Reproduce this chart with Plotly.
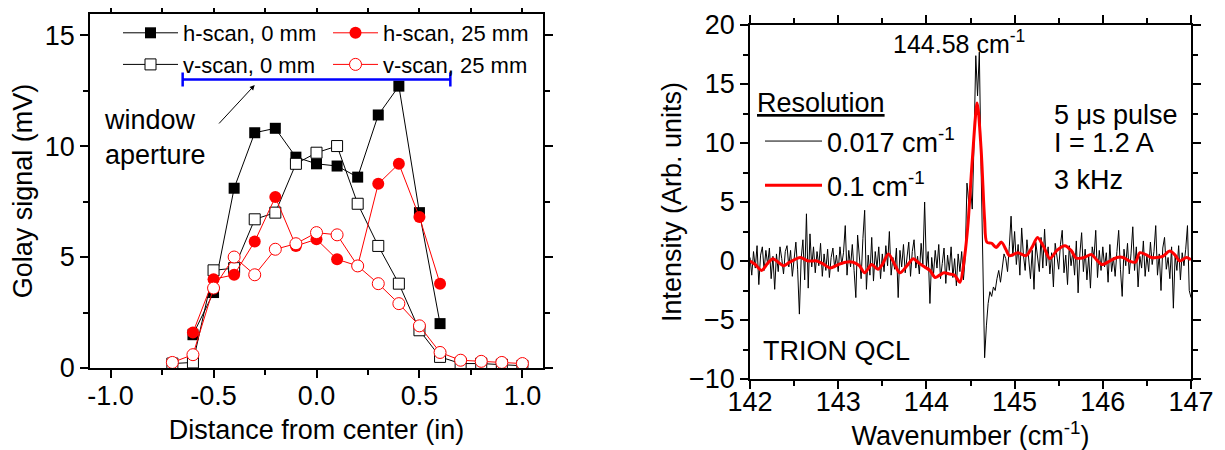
import numpy as np
import plotly.graph_objects as go

# ---- left panel: beam profile scans ----
h0_x = [-0.6, -0.5, -0.4, -0.3, -0.2, -0.1, 0.0, 0.1, 0.2, 0.3, 0.4, 0.5, 0.6]
h0_y = [1.5, 3.4, 8.1, 10.6, 10.8, 9.5, 9.2, 9.1, 8.6, 11.4, 12.7, 7.0, 2.0]

v0_x = [-0.7, -0.6, -0.5, -0.4, -0.3, -0.2, -0.1, 0.0, 0.1, 0.2, 0.3, 0.4, 0.5, 0.6, 0.7, 0.8, 0.9, 1.0]
v0_y = [0.2, 0.25, 4.4, 4.5, 6.7, 7.0, 9.2, 9.7, 10.0, 7.4, 5.5, 3.8, 1.7, 0.5, 0.2, 0.2, 0.15, 0.1]

h25_x = [-0.6, -0.5, -0.4, -0.3, -0.2, -0.1, 0.0, 0.1, 0.2, 0.3, 0.4, 0.5, 0.6]
h25_y = [1.6, 4.0, 4.2, 5.7, 7.7, 5.5, 5.8, 4.9, 4.6, 8.3, 9.2, 6.8, 3.8]

v25_x = [-0.7, -0.6, -0.5, -0.4, -0.3, -0.2, -0.1, 0.0, 0.1, 0.2, 0.3, 0.4, 0.5, 0.6, 0.7, 0.8, 0.9, 1.0]
v25_y = [0.25, 0.6, 3.6, 5.0, 4.2, 5.35, 5.6, 6.1, 6.0, 4.6, 3.8, 2.9, 1.9, 0.7, 0.35, 0.3, 0.25, 0.2]

aperture_center = 0.0
aperture_half = 0.65
aperture_y = 13.0

# ---- right panel: QCL spectrum ----
WN_START = 142.0
WN_STEP = 0.02
hires_y = [
    0.3, -1.2, 0.8, -0.6, 1.3, -2.0, 0.5, 1.2, -0.8, 0.9, -0.3, 1.1, -1.5, 0.4, -2.4, 0.6, -0.9, 1.2, 0.2, -1.1, 0.8, 1.3, -0.5, 0.9, -1.3,
    0.4, 1.6, -0.7, -4.5, 0.2, 1.8, -1.6, 4.0, -2.3, 2.3, -0.5, 1.2, -1.0, 0.8, -0.4, 1.5, -1.3, 0.6, -0.8, 1.0, -1.4, 0.3, 1.1, -0.6, 0.5,
    -0.9, 1.2, -0.3, 0.7, 3.0, -1.2, 0.9, -0.5, 1.4, -0.8, -3.1, 2.2, 0.6, -1.5, 1.9, 4.3, -2.4, 0.5, -1.2, 2.0, -1.7, 0.8, -0.6, 1.2, -1.5,
    0.6, -0.9, 1.3, -0.4, 2.5, -1.2, 0.3, -0.7, 1.1, -3.1, 0.9, -0.5, 1.4, -1.0, 0.2, 1.6, -1.3, 0.8, 1.8, -0.6, 0.4, -1.1, 1.5, -0.3, 5.0,
    -0.5, 0.8, -3.6, 0.3, -1.2, 0.9, -0.6, 1.4, -1.5, -0.2, 1.1, -1.9, 0.5, -0.8, 1.2, -1.4, 0.2, -2.1, 0.6, -0.9, 0.8, -1.6, 0.3, 6.6, 5.0,
    6.3, 4.4, 10.0, 17.4, 14.0, 17.7, 8.0, -2.0, -8.2, -5.5, -3.6, -2.6, -3.0, -2.2, -2.5, -1.5, -0.8, -1.8, -0.5, 0.6, 0.2, -0.9, 1.2, 3.8, 0.4,
    2.5, -0.3, 1.4, -1.2, 2.8, 0.5, -0.8, 1.8, -0.2, -1.5, 0.9, -2.4, 1.6, 0.3, -0.9, 2.0, -0.6, 2.7, -0.4, 1.2, -1.1, 0.7, -2.2, 1.5, 0.2,
    -0.7, 1.4, 2.6, -1.0, 0.5, -2.0, 1.3, -0.4, 0.8, -1.2, 1.7, -2.7, 0.6, 2.4, -0.9, 1.0, -1.6, 0.4, -2.3, 1.2, 0.3, 2.6, -1.4, 0.9, -0.8,
    1.2, -0.5, 0.7, -1.8, 1.4, -0.9, 0.3, -1.3, 0.8, 2.6, -0.7, -3.0, 1.0, -0.4, 1.5, -1.1, 0.6, 2.9, -0.8, 1.2, -2.2, 0.4, -0.6, 1.7, -1.3,
    0.5, -0.9, 1.6, -0.3, 0.8, 3.0, -1.2, 0.6, -2.5, 1.1, 2.0, -0.7, 0.3, -1.5, 1.2, -4.0, 0.5, -0.8, 1.3, -1.6, 0.7, -0.4, 1.0, 3.0, -2.5,
    -3.1,
]
hires_x = np.round(WN_START + WN_STEP * np.arange(len(hires_y)), 3)

lores_x = [142.00, 142.06, 142.13, 142.20, 142.26, 142.32, 142.38, 142.45, 142.57, 142.66,
           142.76, 142.84, 142.91, 143.00, 143.08, 143.17, 143.24, 143.30, 143.38, 143.45,
           143.50, 143.57, 143.64, 143.70, 143.78, 143.85, 143.92, 143.98, 144.04, 144.10,
           144.15, 144.20, 144.26, 144.32, 144.38, 144.43, 144.47, 144.52, 144.576, 144.62,
           144.66, 144.685, 144.74, 144.79, 144.85, 144.90, 144.94, 145.00, 145.04, 145.13,
           145.20, 145.26, 145.33, 145.40, 145.48, 145.57, 145.64, 145.70, 145.79, 145.87,
           145.93, 145.99, 146.08, 146.16, 146.23, 146.30, 146.37, 146.42, 146.50, 146.55,
           146.61, 146.68, 146.76, 146.82, 146.87, 146.95, 147.00]
lores_y = [0.0, -0.3, -0.8, -0.2, 0.2, -0.1, -0.4, -0.1, 0.3, 0.0,
           0.0, -0.3, -0.6, -0.3, -0.1, -0.1, -0.4, -1.0, -0.3, -0.7,
           -0.3, 0.6, -0.3, -1.0, -0.4, 0.2, -0.2, -0.5, -0.8, -1.4,
           -1.2, -1.0, -1.1, -1.2, -1.8, 0.2, 3.0, 8.5, 13.4, 9.5,
           3.5, 1.6, 1.5, 1.15, 1.6, 1.0, 0.45, 0.6, 0.7, 0.45,
           1.2, 2.0, 1.2, 0.2, 0.9, 1.3, 0.9, 0.25, 0.3, 0.55,
           0.1, -0.3, 0.0, 0.3, 0.3, 0.0, -0.1, 0.7, 0.5, 0.3,
           0.3, 0.4, 0.85, 0.5, 0.0, 0.3, 0.1]

FONT = "Liberation Sans, Arial, sans-serif"
W, H = 1225, 450
OFF = 8  # the page body margin shifts the figure by this much


def fx(px):
    # screen pixel -> paper x
    return (px - OFF) / W


def fy(py):
    # screen pixel -> paper y
    return 1 - (py - OFF) / H


fig = go.Figure()

# left panel traces
fig.add_trace(go.Scatter(
    x=h0_x, y=h0_y, name="h-scan, 0 mm", mode="lines+markers",
    line=dict(color="black", width=1),
    marker=dict(symbol="square", size=11, color="black"),
    legend="legend",
))
fig.add_trace(go.Scatter(
    x=v0_x, y=v0_y, name="v-scan, 0 mm", mode="lines+markers",
    line=dict(color="black", width=1),
    marker=dict(symbol="square", size=11, color="white", line=dict(color="black", width=1)),
    legend="legend",
))
fig.add_trace(go.Scatter(
    x=h25_x, y=h25_y, name="h-scan, 25 mm", mode="lines+markers",
    line=dict(color="red", width=1),
    marker=dict(symbol="circle", size=12, color="red"),
    legend="legend2",
))
fig.add_trace(go.Scatter(
    x=v25_x, y=v25_y, name="v-scan, 25 mm", mode="lines+markers",
    line=dict(color="red", width=1),
    marker=dict(symbol="circle", size=12, color="white", line=dict(color="red", width=1)),
    legend="legend2",
))
# window aperture bar
fig.add_trace(go.Scatter(
    x=[aperture_center], y=[aperture_y], mode="markers", showlegend=False,
    marker=dict(size=1, color="#0000ff"),
    error_x=dict(type="data", array=[aperture_half], color="#0000ff", thickness=2.5, width=7),
))

# right panel traces
fig.add_trace(go.Scatter(
    x=hires_x, y=hires_y, name="0.017 cm<sup>-1</sup>", mode="lines",
    line=dict(color="black", width=1),
    xaxis="x2", yaxis="y2", legend="legend3", legendgroup="hi",
))
fig.add_trace(go.Scatter(
    x=lores_x, y=lores_y, name="0.1 cm<sup>-1</sup>", mode="lines",
    line=dict(color="red", width=3, shape="spline", smoothing=0.8),
    xaxis="x2", yaxis="y2", legend="legend3", legendgroup="lo",
))

axis_common = dict(
    showgrid=False, zeroline=False, showline=True, linecolor="black", linewidth=1.5,
    mirror="ticks", ticks="outside", ticklen=8, tickwidth=1.5, tickcolor="black",
    tickfont=dict(size=27, color="black"),
    title_font=dict(size=27, color="black"),
    automargin=False,
)
minor_common = dict(ticklen=5, tickwidth=1.5, tickcolor="black", ticks="outside")

fig.update_layout(
    width=W, height=H,
    margin=dict(l=0, r=0, t=0, b=0),
    paper_bgcolor="white", plot_bgcolor="white",
    font=dict(family=FONT, color="black"),
    xaxis=dict(
        **axis_common, domain=[fx(90), fx(543)], anchor="y",
        range=[-1.1, 1.1], tickvals=[-1.0, -0.5, 0.0, 0.5, 1.0],
        ticktext=["-1.0", "-0.5", "0.0", "0.5", "1.0"],
        minor=dict(tickvals=[-0.75, -0.25, 0.25, 0.75], **minor_common),
        ticklabelstandoff=-5,
        title=dict(text="Distance from center (in)", standoff=10),
    ),
    yaxis=dict(
        **axis_common, domain=[fy(368), fy(14)], anchor="x",
        range=[0, 15.95], tickvals=[0, 5, 10, 15],
        minor=dict(tickvals=[2.5, 7.5, 12.5], **minor_common),
        title=dict(text="Golay signal (mV)", standoff=10),
    ),
    xaxis2=dict(
        **axis_common, domain=[fx(750), fx(1191)], anchor="y2",
        range=[142, 147], dtick=1,
        minor=dict(dtick=0.5, **minor_common),
        ticklabelstandoff=-10,
        title=dict(text="Wavenumber (cm<sup>-1</sup>)", standoff=2),
    ),
    yaxis2=dict(
        **axis_common, domain=[fy(379), fy(25)], anchor="x2",
        range=[-10, 20], dtick=5,
        minor=dict(dtick=2.5, **minor_common),
        title=dict(text="Intensity (Arb. units)", standoff=0),
    ),
    legend=dict(
        x=fx(118), y=fy(12), xanchor="left", yanchor="top", itemwidth=55,
        bgcolor="rgba(0,0,0,0)", font=dict(size=22, color="black"), tracegroupgap=0,
    ),
    legend2=dict(
        x=fx(328), y=fy(12), xanchor="left", yanchor="top", itemwidth=45,
        bgcolor="rgba(0,0,0,0)", font=dict(size=22, color="black"), tracegroupgap=0,
    ),
    legend3=dict(
        x=fx(760), y=fy(117), xanchor="left", yanchor="top", itemwidth=57,
        bgcolor="rgba(0,0,0,0)", font=dict(size=27, color="black"), tracegroupgap=6,
    ),
)

# annotations
fig.add_annotation(
    x=-0.30, y=12.75, ax=-0.48, ay=10.95, xref="x", yref="y", axref="x", ayref="y",
    text="", showarrow=True, arrowhead=2, arrowsize=1, arrowwidth=1, arrowcolor="black",
)
fig.add_annotation(
    x=-1.04, y=10.4, xref="x", yref="y", xanchor="left", yanchor="middle", align="left",
    text="window<br>aperture", showarrow=False, font=dict(size=27, color="black"),
)
fig.add_annotation(
    x=142.06, y=13.4, xref="x2", yref="y2", xanchor="left", yanchor="middle",
    text="<u>Resolution</u>", showarrow=False, font=dict(size=27, color="black"),
)
fig.add_annotation(
    x=144.37, y=18.6, xref="x2", yref="y2", xanchor="center", yanchor="middle",
    text="144.58 cm<sup>-1</sup>", showarrow=False, font=dict(size=25, color="black"),
)
for label, yv in [("5 \u03bcs pulse", 12.35), ("I = 1.2 A", 10.0), ("3 kHz", 6.85)]:
    fig.add_annotation(
        x=145.42, y=yv, xref="x2", yref="y2", xanchor="left", yanchor="middle",
        text=label, showarrow=False, font=dict(size=27, color="black"),
    )
fig.add_annotation(
    x=142.12, y=-7.6, xref="x2", yref="y2", xanchor="left", yanchor="middle",
    text="TRION QCL", showarrow=False, font=dict(size=27, color="black"),
)

fig.write_html("out.html")
